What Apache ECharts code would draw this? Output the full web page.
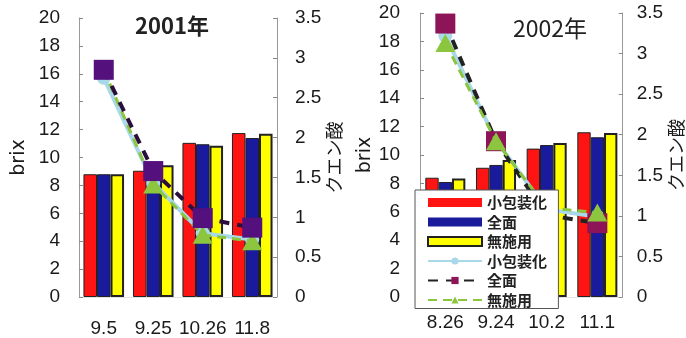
<!DOCTYPE html>
<html>
<head>
<meta charset="utf-8">
<script src="https://cdn.jsdelivr.net/npm/echarts@6/dist/echarts.min.js"></script>
<style>
  html, body { margin: 0; padding: 0; background: #fff; }
  #chart { width: 686px; height: 338px; }
</style>
</head>
<body>
<div id="chart"></div>
<script>
// Sampling dates
const dates2001 = ['9.5', '9.25', '10.26', '11.8'];
const dates2002 = ['8.26', '9.24', '10.2', '11.1'];

// Brix (left axis)
const brix2001Small = [8.8, 9.05, 11.05, 11.75];
const brix2001Full  = [8.8, 9.0, 10.95, 11.4];
const brix2001None  = [8.8, 9.45, 10.85, 11.7];
const brix2002Small = [8.4, 9.1, 10.45, 11.6];
const brix2002Full  = [8.1, 9.3, 10.7, 11.25];
const brix2002None  = [8.35, 9.65, 10.85, 11.55];

// Citric acid (right axis)
const acid2001Small = [2.75, 1.43, 0.8, 0.72];
const acid2001Full  = [2.85, 1.58, 0.99, 0.87];
const acid2001None  = [2.85, 1.41, 0.78, 0.7];
const acid2002Small = [3.22, 1.93, 1.08, 0.99];
const acid2002Full  = [3.37, 1.92, 1.01, 0.91];
const acid2002None  = [3.13, 1.92, 1.1, 1.04];

// Axis ranges and tick steps
const brixAxis = { min: 0, max: 20, interval: 2 };
const acidAxis = { min: 0, max: 3.5, interval: 0.5 };

// Series labels
const nameSmall = '小包装化';
const nameFull = '全面';
const nameNone = '無施用';

const latin = '"Liberation Sans", Arial, sans-serif';
const cjk = '"Noto Sans CJK JP", sans-serif';
const txt = '#1a1a1a';

const RED = '#ff1414', BLUE = '#1a1a9c', YELLOW = '#ffff00';
const LIGHTBLUE = '#a9d8e8', GREEN = '#8cc63f';

function yAx(grid, cfg, pos, name, nameGap, margin) {
  return {
    type: 'value', gridIndex: grid, position: pos,
    min: cfg.min, max: cfg.max, interval: cfg.interval,
    name: name, nameLocation: 'middle', nameRotate: 90, nameGap: nameGap,
    nameTextStyle: { fontFamily: name === 'brix' ? '"DejaVu Sans", sans-serif' : cjk,
                     fontSize: name === 'brix' ? 19 : 18, color: txt },
    axisLine: { show: true, lineStyle: { color: '#999', width: 1 } },
    axisTick: { show: true, inside: true, length: 4, lineStyle: { color: '#888' } },
    splitLine: { show: false },
    axisLabel: { fontFamily: latin, fontSize: 19, color: txt, margin: margin }
  };
}

function xAx(grid, cats, margin) {
  return {
    type: 'category', gridIndex: grid, data: cats,
    axisLine: { show: true, lineStyle: { color: '#e4e4e4' } },
    axisTick: { show: false },
    axisLabel: { fontFamily: latin, fontSize: 19, color: txt, margin: margin, interval: 0 }
  };
}

function bar(name, data, color, xi, yi, gap, bw) {
  return {
    type: 'bar', name: name, data: data, xAxisIndex: xi, yAxisIndex: yi,
    barGap: '0%', barCategoryGap: gap, z: 2,
    itemStyle: { color: color, borderColor: '#222', borderWidth: bw }
  };
}

function line(name, data, xi, yi, z, opts) {
  return Object.assign({
    type: 'line', name: name, data: data, xAxisIndex: xi, yAxisIndex: yi, z: z,
    showSymbol: true
  }, opts);
}

const smallLine = {
  symbol: 'circle', symbolSize: 14,
  itemStyle: { color: LIGHTBLUE },
  lineStyle: { color: LIGHTBLUE, width: 4 }
};
function fullLine(markColor, lineColor) {
  return {
    symbol: 'rect', symbolSize: 20,
    itemStyle: { color: markColor },
    lineStyle: { color: lineColor, width: 4, type: [10, 8] }
  };
}
const noneLine = {
  symbol: 'triangle', symbolSize: [20, 18],
  itemStyle: { color: GREEN },
  lineStyle: { color: GREEN, width: 3, type: [9, 6] }
};

const chart = echarts.init(document.getElementById('chart'));
chart.setOption({
  animation: false,
  backgroundColor: '#fff',
  title: [
    { text: '2001年', left: 167, top: 10, textAlign: 'center',
      textStyle: { fontFamily: cjk, fontSize: 22, fontWeight: 'bold', color: '#222' } },
    { text: '2002年', left: 545, top: 12, textAlign: 'center',
      textStyle: { fontFamily: cjk, fontSize: 23, fontWeight: 'normal', color: '#222' } }
  ],
  grid: [
    { left: 79, top: 18, width: 198, height: 282 },
    { left: 420, top: 13, width: 215, height: 284 }
  ],
  xAxis: [xAx(0, dates2001, 22), xAx(1, dates2002, 16)],
  yAxis: [
    yAx(0, brixAxis, 'left', 'brix', 50, 19),
    yAx(0, acidAxis, 'right', 'クエン酸', 44, 18),
    yAx(1, brixAxis, 'left', 'brix', 45, 20),
    yAx(1, acidAxis, 'right', 'クエン酸', 36, 14)
  ],
  legend: {
    orient: 'vertical', left: 415, top: 190, z: 10,
    backgroundColor: '#fff', borderColor: '#555', borderWidth: 1,
    padding: [5, 8, 1, 12], itemGap: 4.5, itemWidth: 54, itemHeight: 9,
    textStyle: { fontFamily: cjk, fontSize: 15, fontWeight: 'bold', color: '#222', lineHeight: 14 },
    data: [
      { name: nameSmall, icon: 'rect', itemStyle: { borderWidth: 0 } },
      { name: nameFull, icon: 'rect', itemStyle: { borderWidth: 0 } },
      { name: nameNone, icon: 'rect' },
      nameSmall + ' ', nameFull + ' ', nameNone + ' '
    ]
  },
  series: [
    // 2002
    bar(nameSmall, brix2002Small, RED, 1, 2, '21%', 1),
    bar(nameFull, brix2002Full, BLUE, 1, 2, '21%', 1),
    bar(nameNone, brix2002None, YELLOW, 1, 2, '21%', 2),
    line(nameSmall + ' ', acid2002Small, 1, 3, 3, smallLine),
    line(nameFull + ' ', acid2002Full, 1, 3, 4, fullLine('#8c1457', '#222')),
    line(nameNone + ' ', acid2002None, 1, 3, 5, noneLine),
    // 2001
    bar(nameSmall, brix2001Small, RED, 0, 0, '18%', 1),
    bar(nameFull, brix2001Full, BLUE, 0, 0, '18%', 1),
    bar(nameNone, brix2001None, YELLOW, 0, 0, '18%', 2),
    line(nameSmall + ' ', acid2001Small, 0, 1, 3, smallLine),
    line(nameNone + ' ', acid2001None, 0, 1, 4, noneLine),
    line(nameFull + ' ', acid2001Full, 0, 1, 5, fullLine('#54107c', '#2a0f3c'))
  ]
});
</script>
</body>
</html>
